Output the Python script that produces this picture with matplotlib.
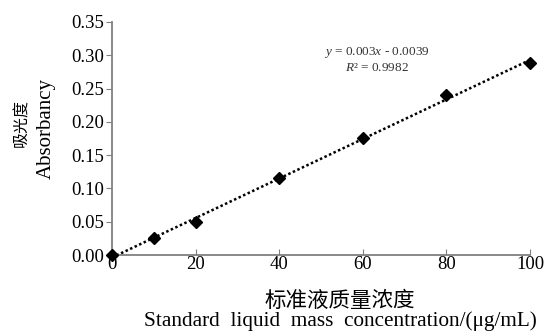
import matplotlib
matplotlib.use("Agg")
import matplotlib.pyplot as plt
import numpy as np

plt.rcParams['font.family'] = ['Liberation Serif', 'Noto Sans CJK SC']
plt.rcParams['mathtext.fontset'] = 'custom'
plt.rcParams['mathtext.it'] = 'Liberation Serif:italic'
plt.rcParams['mathtext.rm'] = 'Liberation Serif'

# standard curve data
conc = [0, 10, 20, 40, 60, 80, 100]
absorb = [0.0, 0.025, 0.049, 0.116, 0.176, 0.240, 0.288]
yticks = [0.00, 0.05, 0.10, 0.15, 0.20, 0.25, 0.30, 0.35]
xticks = [0, 20, 40, 60, 80, 100]

fig = plt.figure(figsize=(5.45, 3.33), dpi=100)
ax = fig.add_axes([0.2055, 0.234, 0.767, 0.700])

# linear trend line
k, b = np.polyfit(conc, absorb, 1)
xl = np.array([conc[0], conc[-1]])
ax.plot(xl, k * xl + b, linestyle=(0, (1, 1.0)), color='black', linewidth=1.8)
ax.plot(conc, absorb, linestyle='none', marker='D', markersize=6.5, color='black',
        clip_on=False, zorder=5)

ax.set_xlim(0, 100)
ax.set_ylim(0, 0.35)
ax.set_xticks(xticks)
ax.set_yticks(yticks)
ax.set_yticklabels(['%.2f' % v for v in yticks])

for s in ['top', 'right']:
    ax.spines[s].set_visible(False)
for s in ['left', 'bottom']:
    ax.spines[s].set_color('#808080')
    ax.spines[s].set_linewidth(1.3)
ax.tick_params(axis='x', direction='in', length=4, color='#808080', labelsize=13.5, pad=1)
ax.tick_params(axis='y', direction='out', length=4, color='#808080', labelsize=13.5, pad=2)

ax.text(0.634, 0.867, r'$y$ = 0.003$x$ - 0.0039', transform=ax.transAxes,
        ha='center', va='center', fontsize=9.5, color='#333333')
ax.text(0.634, 0.803, r'$R$² = 0.9982', transform=ax.transAxes,
        ha='center', va='center', fontsize=9.5, color='#333333')

fig.text(0.04, 0.63, '吸光度', rotation=90, ha='center', va='center', fontsize=11.5,
         family=['Noto Sans CJK SC'])
fig.text(0.085, 0.613, 'Absorbancy', rotation=90, ha='center', va='center', fontsize=15)
fig.text(0.624, 0.096, '标准液质量浓度', ha='center', va='center', fontsize=15.5,
         family=['Noto Sans CJK SC'])
fig.text(0.624, 0.036, 'Standard  liquid  mass  concentration/(μg/mL)', ha='center',
         va='center', fontsize=15.3)

fig.savefig('out.png', dpi=100)
